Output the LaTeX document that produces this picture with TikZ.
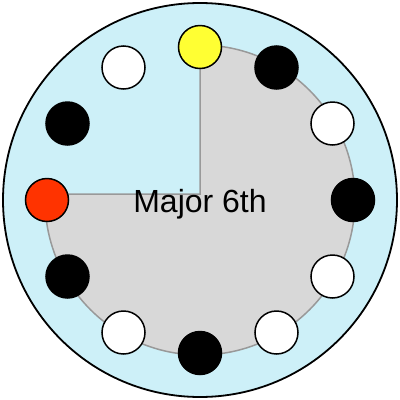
\documentclass[tikz,border=0pt]{standalone}
\usepackage{fontspec}
\setmainfont{Liberation Sans}
\usetikzlibrary{calc}
\definecolor{skyb}{HTML}{CDF0F8}
\definecolor{sectg}{HTML}{D8D8D8}
\definecolor{sectl}{HTML}{999999}
\definecolor{yel}{HTML}{FFFF33}
\definecolor{rd}{HTML}{FF3300}
\begin{document}
\begin{tikzpicture}[x=1pt,y=-1pt,
  note/.style={circle,draw=black,line width=1.5pt,minimum size=43pt,inner sep=0pt},
  on/.style={note,fill=black},
  off/.style={note,fill=white},
  root/.style={note,fill=yel},
  sixth/.style={note,fill=rd}]
\useasboundingbox (0,0) rectangle (400,400);
\node[circle,draw=black,line width=1.8pt,fill=skyb,minimum size=394pt,inner sep=0pt] (outer) at (200,200) {};
\coordinate (c) at (200,200);
\coordinate (sc) at (200,194);
\coordinate (top) at (200,45);
\coordinate (left) at ($(c)+(182.22:155)$);
\fill[sectg] (sc) -- (top) arc[start angle=-90,end angle=182.22,radius=155] -- cycle;
\draw[sectl,line width=1.5pt] (top) arc[start angle=-90,end angle=182.22,radius=155];
\draw[sectl,line width=1.5pt] (top) -- (sc) -- (left);
\node[font=\fontsize{32}{32}\selectfont,anchor=base] (lbl) at (200,212) {Major 6th};
\foreach \i/\st in {0/root,1/on,2/off,3/on,4/off,5/off,6/on,7/off,8/on,9/sixth,10/on,11/off}{
  \pgfmathsetmacro{\ang}{-90+30*\i}
  \node[\st] (n\i) at ($(c)+(\ang:153)$) {};
}
\end{tikzpicture}
\end{document}
